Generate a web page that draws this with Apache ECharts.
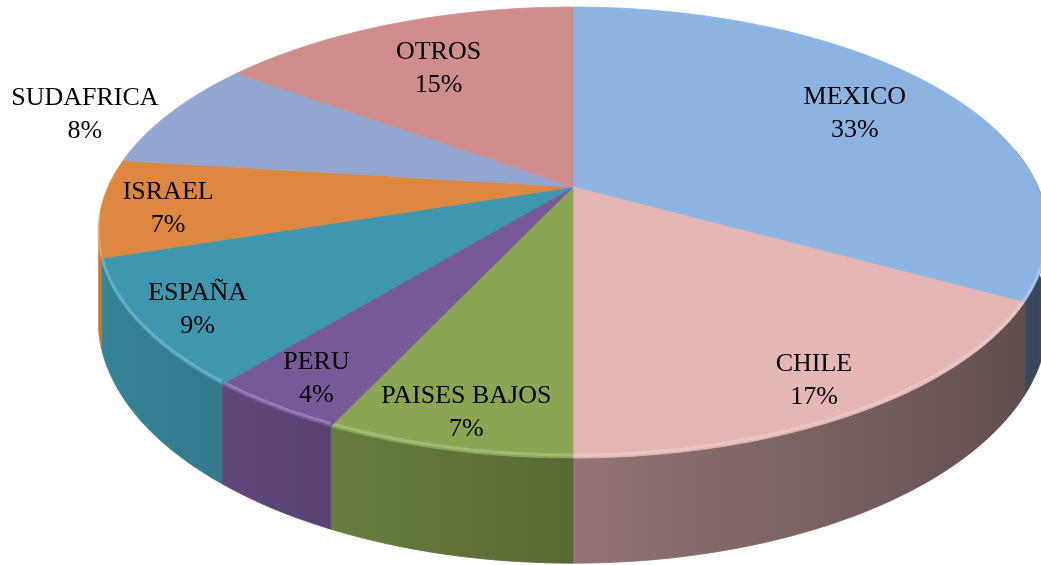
<!DOCTYPE html>
<html>
<head>
<meta charset="utf-8">
<script src="https://cdn.jsdelivr.net/npm/echarts@6/dist/echarts.min.js"></script>
<style>
html,body{margin:0;padding:0;background:#fff;}
#chart{width:1041px;height:565px;}
</style>
</head>
<body>
<div id="chart"></div>
<script>
// ---- data ----
const categories = ['MEXICO', 'CHILE', 'PAISES BAJOS', 'PERU', 'ESPAÑA', 'ISRAEL', 'SUDAFRICA', 'OTROS'];
const values = [33, 17, 7, 4, 9, 7, 8, 15];
const outsideLabels = ['SUDAFRICA'];

// ---- style ----
const colors = ['#8DB3E2', '#E4B6B5', '#8AA652', '#77599A', '#3E97AE', '#DD8740', '#91A7D0', '#CF8E8D'];
const CX = 573, CY = 187, A = 465, B = 216.3, K = 0.2018, DEPTH = 84;
const FONT_SIZE = 26, FONT_FAMILY = '"Liberation Serif", "Times New Roman", serif', LINE_H = 33;
const WALL_FROM = 80, WALL_TO = 256;

const total = values.reduce((s, v) => s + v, 0);
const startA = [], endA = [];
let acc = 0;
values.forEach((v) => { startA.push(acc / total * 360); acc += v; endA.push(acc / total * 360); });

const measureCtx = document.createElement('canvas').getContext('2d');
measureCtx.font = FONT_SIZE + 'px ' + FONT_FAMILY;

function proj(deg, r, h) {
  const t = deg * Math.PI / 180;
  const x = r * Math.sin(t), z = r * Math.cos(t);
  const w = 1 + K * z;
  return [CX + A * x / w, CY - B * z / w + DEPTH * h / w];
}
function arc(a0, a1, h) {
  const pts = [];
  const n = Math.max(2, Math.ceil((a1 - a0) / 1.5));
  for (let i = 0; i <= n; i++) pts.push(proj(a0 + (a1 - a0) * i / n, 1, h));
  return pts;
}
function shade(hex, f) {
  const n = parseInt(hex.slice(1), 16);
  const r = Math.round(((n >> 16) & 255) * f), g = Math.round(((n >> 8) & 255) * f), b = Math.round((n & 255) * f);
  return 'rgb(' + r + ',' + g + ',' + b + ')';
}
function shadeFactor(deg) {
  return Math.max(0.3, Math.min(0.95, 0.64 - 0.25 * Math.sin(deg * Math.PI / 180)));
}

function renderWall(params, api) {
  const i = params.dataIndex;
  const lo = Math.max(startA[i], WALL_FROM), hi = Math.min(endA[i], WALL_TO);
  if (hi <= lo) return null;
  const top = arc(lo, hi, 0);
  const bot = arc(lo, hi, 1).reverse();
  const n = 12, samples = [];
  for (let j = 0; j <= n; j++) {
    const d = lo + (hi - lo) * j / n;
    samples.push({ x: proj(d, 1, 0)[0], c: shade(colors[i], shadeFactor(d)) });
  }
  const minX = Math.min(...samples.map(s => s.x)), maxX = Math.max(...samples.map(s => s.x));
  const stops = samples.map(s => ({
    offset: maxX > minX ? Math.min(1, Math.max(0, (s.x - minX) / (maxX - minX))) : 0,
    color: s.c
  }));
  stops.sort((a, b) => a.offset - b.offset);
  const fill = new echarts.graphic.LinearGradient(minX, 0, Math.max(maxX, minX + 1), 0, stops, true);
  return {
    type: 'polygon',
    shape: { points: top.concat(bot) },
    style: { fill: fill, stroke: fill, lineWidth: 0.8 }
  };
}

function renderTop(params, api) {
  const i = params.dataIndex;
  const pts = [[CX, CY]].concat(arc(startA[i], endA[i], 0));
  const mid = (startA[i] + endA[i]) / 2;
  const m = mid * Math.PI / 180;
  const frac = values[i] / total;
  const outside = outsideLabels.indexOf(categories[i]) >= 0;
  const pct = Math.round(frac * 100) + '%';
  let lx, ly;
  if (outside) {
    const edge = proj(mid, 1, 0);
    const wText = Math.max(measureCtx.measureText(categories[i]).width, measureCtx.measureText(pct).width);
    const dir = Math.sin(m) < 0 ? -1 : 1;
    lx = edge[0] + dir * (12 + wText / 2);
    ly = edge[1] + 2;
  } else {
    const r = 0.787 - 0.083 * Math.cos(m) + 0.066 * Math.sin(m) * Math.sin(m) - 0.15 * Math.max(0, frac - 0.1);
    const lp = proj(mid, r, 0);
    lx = lp[0]; ly = lp[1] + 4;
  }
  const children = [{
    type: 'polygon',
    shape: { points: pts },
    style: { fill: colors[i], stroke: colors[i], lineWidth: 0.8 }
  }];
  const lo = Math.max(startA[i], 95), hi = Math.min(endA[i], 262);
  if (hi > lo) {
    children.push({
      type: 'polyline',
      shape: { points: arc(lo, hi, 0).map(p => [p[0], p[1] - 3]) },
      style: { fill: null, stroke: 'rgba(255,255,255,0.22)', lineWidth: 3 }
    });
  }
  children.push({
    type: 'text',
    x: lx, y: ly,
    style: {
      text: categories[i] + '\n' + pct,
      fill: '#000',
      fontSize: FONT_SIZE,
      fontFamily: FONT_FAMILY,
      align: 'center',
      verticalAlign: 'middle',
      lineHeight: LINE_H
    }
  });
  return { type: 'group', children: children };
}

const chart = echarts.init(document.getElementById('chart'), null, { renderer: 'canvas' });
chart.setOption({
  animation: false,
  backgroundColor: '#ffffff',
  series: [
    { type: 'custom', coordinateSystem: 'none', renderItem: renderWall, data: values, z: 1, silent: true },
    { type: 'custom', coordinateSystem: 'none', renderItem: renderTop, data: values, z: 2, silent: true }
  ]
});
</script>
</body>
</html>
